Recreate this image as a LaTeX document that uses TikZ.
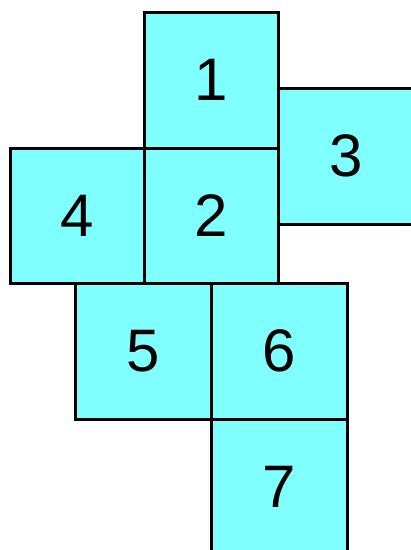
\documentclass[tikz,border=0pt]{standalone}
\usepackage{fontspec}
\setmainfont{Liberation Sans}
\definecolor{facecyan}{RGB}{128,255,255}
\begin{document}
\begin{tikzpicture}[x=1pt,y=-1pt,
  face/.style={draw=black,fill=facecyan,line width=3pt,rectangle,inner sep=0pt,
    minimum width=134pt,minimum height=136pt,
    font=\fontsize{60}{60}\selectfont}]
\useasboundingbox (0,0) rectangle (411,550);
\clip (0,0) rectangle (411,550);
\node[face,minimum height=136pt] (f1) at (211,80) {1};
\node[face,minimum width=136pt] (f3) at (346,156) {3};
\node[face,minimum height=135pt] (f4) at (77,215.5) {4};
\node[face,minimum height=135pt] (f2) at (211,215.5) {2};
\node[face,minimum width=136pt] (f5) at (143,351) {5};
\node[face,minimum width=136pt] (f6) at (279,351) {6};
\node[face,minimum width=136pt] (f7) at (279,487) {7};
\end{tikzpicture}
\end{document}
